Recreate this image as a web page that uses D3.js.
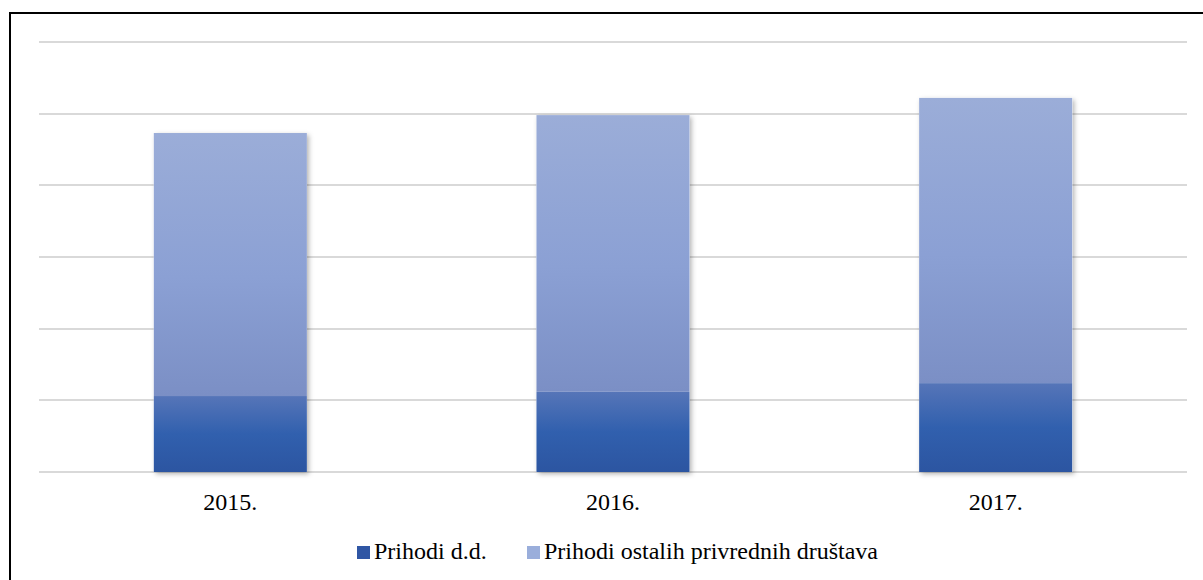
<!DOCTYPE html>
<html><head><meta charset="utf-8">
<script src="https://cdn.jsdelivr.net/npm/d3@7"></script>
<style>body{margin:0;background:#fff;}svg{display:block;}</style>
</head><body>
<script>
const categories = ["2015.", "2016.", "2017."];
const seriesNames = ["Prihodi d.d.", "Prihodi ostalih privrednih društava"];
const prihodiDD = [10.6, 11.2, 12.4];
const prihodiOstalih = [36.7, 38.6, 39.8];
const gridTicks = [0, 10, 20, 30, 40, 50, 60];

const W = 1203, H = 580;
const svg = d3.select("body").append("svg").attr("width", W).attr("height", H);
const defs = svg.append("defs");

const f = defs.append("filter").attr("id","sh").attr("x","-10%").attr("y","-10%").attr("width","130%").attr("height","130%");
f.append("feDropShadow").attr("dx",2).attr("dy",2).attr("stdDeviation",2.5).attr("flood-color","#000").attr("flood-opacity",0.3);

const gDark = defs.append("linearGradient").attr("id","gDark").attr("x1",0).attr("y1",0).attr("x2",0).attr("y2",1);
gDark.append("stop").attr("offset","0%").attr("stop-color","#5675b8");
gDark.append("stop").attr("offset","50%").attr("stop-color","#3160ae");
gDark.append("stop").attr("offset","100%").attr("stop-color","#2c55a1");
const gLight = defs.append("linearGradient").attr("id","gLight").attr("x1",0).attr("y1",0).attr("x2",0).attr("y2",1);
gLight.append("stop").attr("offset","0%").attr("stop-color","#9badd8");
gLight.append("stop").attr("offset","55%").attr("stop-color","#8ba0d4");
gLight.append("stop").attr("offset","100%").attr("stop-color","#7b8fc5");

// frame
svg.append("rect").attr("x",10).attr("y",13).attr("width",1200).attr("height",600)
  .attr("fill","none").attr("stroke","#000").attr("stroke-width",2);

const x = d3.scaleBand().domain(categories).range([39, 1187]).paddingInner(0.6).paddingOuter(0.3);
const y = d3.scaleLinear().domain([0, 60]).range([472, 42]);

svg.append("g").selectAll("line").data(gridTicks).join("line")
  .attr("x1",39).attr("x2",1187)
  .attr("y1",d=>Math.round(y(d))).attr("y2",d=>Math.round(y(d)))
  .attr("stroke","#d9d9d9").attr("stroke-width",2);

const data = categories.map((c,i)=>({c, a: prihodiDD[i], b: prihodiOstalih[i]}));
const bars = svg.append("g");
bars.selectAll("rect.s").data(data).join("rect").attr("class","s")
  .attr("x",d=>x(d.c)).attr("width",x.bandwidth())
  .attr("y",d=>y(d.a+d.b)).attr("height",d=>y(0)-y(d.a+d.b))
  .attr("fill","#fff").attr("filter","url(#sh)");
bars.selectAll("rect.b").data(data).join("rect").attr("class","b")
  .attr("x",d=>x(d.c)).attr("width",x.bandwidth())
  .attr("y",d=>y(d.a+d.b)).attr("height",d=>y(d.a)-y(d.a+d.b))
  .attr("fill","url(#gLight)");
bars.selectAll("rect.a").data(data).join("rect").attr("class","a")
  .attr("x",d=>x(d.c)).attr("width",x.bandwidth())
  .attr("y",d=>y(d.a)).attr("height",d=>y(0)-y(d.a))
  .attr("fill","url(#gDark)");

const font = "'Liberation Serif','Times New Roman',serif";
const xAxis = d3.axisBottom(x).tickSize(0).tickPadding(0);
const ax = svg.append("g").attr("transform","translate(0,472)").call(xAxis);
ax.select(".domain").remove();
ax.selectAll("text").attr("y",38).attr("dy",0).attr("font-family",font).attr("font-size",24).attr("fill","#000");

// legend
const leg = [{n:seriesNames[0], c:"#2f56a4", x:357},{n:seriesNames[1], c:"#9aaedb", x:527}];
const lg = svg.append("g");
lg.selectAll("rect").data(leg).join("rect").attr("x",d=>d.x).attr("y",546).attr("width",13).attr("height",13).attr("fill",d=>d.c);
lg.selectAll("text").data(leg).join("text").attr("x",d=>d.x+17).attr("y",559)
  .attr("font-family",font).attr("font-size",24).attr("fill","#000").text(d=>d.n);
</script>
</body></html>
